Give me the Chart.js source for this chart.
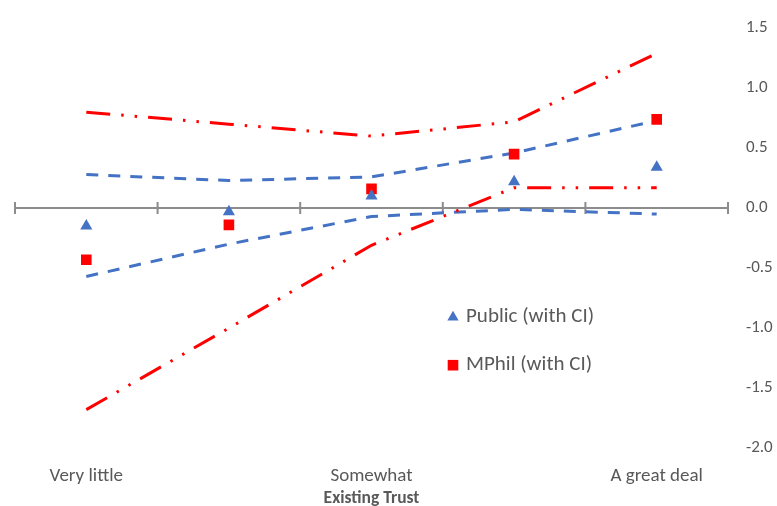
<!DOCTYPE html>
<html>
<head>
<meta charset="utf-8">
<script src="https://cdn.jsdelivr.net/npm/chart.js@4/dist/chart.umd.min.js"></script>
<style>
  html, body { margin: 0; padding: 0; background: #fff; }
  #wrap { width: 777px; height: 506px; }
</style>
</head>
<body>
<div id="wrap"><canvas id="trustChart"></canvas></div>
<script>
// categories (only every other one is labelled in the original)
const categories = ['Very little', '', 'Somewhat', '', 'A great deal'];
const yTicks = [1.5, 1.0, 0.5, 0.0, -0.5, -1.0, -1.5, -2.0];

// point estimates
const publicMean = [-0.15, -0.03, 0.10, 0.22, 0.34];
const mphilMean = [-0.43, -0.14, 0.16, 0.45, 0.74];

// confidence intervals
const publicUpper = [0.28, 0.23, 0.26, 0.46, 0.73];
const publicLower = [-0.57, -0.30, -0.07, -0.01, -0.05];
const mphilUpper = [0.80, 0.70, 0.60, 0.72, 1.29];
const mphilLower = [-1.68, -1.00, -0.31, 0.17, 0.17];

const BLUE = '#4472C4';
const RED = '#FF0000';
const GREY_TEXT = '#595959';
const FONT = 'Carlito, Calibri, Lato, sans-serif';

// gray zero axis with tick marks at category boundaries
const zeroAxis = {
    id: 'zeroAxis',
    beforeDatasetsDraw(chart) {
        const { ctx, scales: { x, y } } = chart;
        const y0 = y.getPixelForValue(0);
        ctx.save();
        ctx.strokeStyle = '#8C8C8C';
        ctx.lineWidth = 2;
        ctx.beginPath();
        ctx.moveTo(x.left, y0);
        ctx.lineTo(x.right, y0);
        for (let i = 0; i <= categories.length; i++) {
            const px = x.getPixelForValue(i - 0.5);
            ctx.moveTo(px, y0 - 6);
            ctx.lineTo(px, y0 + 6);
        }
        ctx.stroke();
        ctx.restore();
    }
};

// legend drawn inside the plot area, only for the two marker series
const innerLegend = {
    id: 'innerLegend',
    afterDatasetsDraw(chart) {
        const { ctx, chartArea } = chart;
        const startX = chartArea.left + 438;
        const startY = chartArea.top + 289;
        ctx.save();
        chart.data.datasets.slice(0, 2).forEach((ds, i) => {
            const cy = startY + i * 48;
            ctx.fillStyle = ds.pointBackgroundColor;
            Chart.helpers.drawPoint(ctx, {
                pointStyle: ds.pointStyle,
                rotation: 0,
                radius: ds.legendRadius,
                borderWidth: 0
            }, startX, cy);
            ctx.fillStyle = GREY_TEXT;
            ctx.font = '21px ' + FONT;
            ctx.textBaseline = 'middle';
            ctx.textAlign = 'left';
            ctx.fillText(ds.label, startX + 13, cy);
        });
        ctx.restore();
    }
};

const ctx = document.getElementById('trustChart').getContext('2d');
new Chart(ctx, {
    type: 'line',
    data: {
        labels: categories,
        datasets: [
            {
                label: 'Public (with CI)',
                data: publicMean,
                showLine: false,
                pointStyle: 'triangle',
                pointRadius: 7,
                legendRadius: 6.5,
                pointBackgroundColor: BLUE,
                pointBorderWidth: 0,
                order: 0
            },
            {
                label: 'MPhil (with CI)',
                data: mphilMean,
                showLine: false,
                pointStyle: 'rect',
                pointRadius: 7.5,
                legendRadius: 7.5,
                pointBackgroundColor: RED,
                pointBorderWidth: 0,
                order: 1
            },
            {
                label: 'Public upper',
                data: publicUpper,
                borderColor: BLUE,
                borderWidth: 3,
                borderDash: [12, 10],
                pointRadius: 0,
                fill: false,
                order: 4
            },
            {
                label: 'Public lower',
                data: publicLower,
                borderColor: BLUE,
                borderWidth: 3,
                borderDash: [12, 10],
                pointRadius: 0,
                fill: false,
                order: 5
            },
            {
                label: 'MPhil upper',
                data: mphilUpper,
                borderColor: RED,
                borderWidth: 3,
                borderDash: [24, 11, 2.5, 11, 2.5, 11],
                pointRadius: 0,
                fill: false,
                order: 2
            },
            {
                label: 'MPhil lower',
                data: mphilLower,
                borderColor: RED,
                borderWidth: 3,
                borderDash: [24, 11, 2.5, 11, 2.5, 11],
                pointRadius: 0,
                fill: false,
                order: 3
            }
        ]
    },
    options: {
        responsive: true,
        maintainAspectRatio: false,
        animation: false,
        layout: { padding: { left: 15, top: 24, right: 0, bottom: 0 } },
        plugins: {
            legend: { display: false },
            tooltip: { enabled: false }
        },
        scales: {
            x: {
                offset: true,
                grid: { display: false, drawTicks: false },
                border: { display: false },
                ticks: {
                    color: GREY_TEXT,
                    font: { family: FONT, size: 19 },
                    padding: 17,
                    autoSkip: false,
                    maxRotation: 0
                },
                title: {
                    display: true,
                    text: 'Existing Trust',
                    color: GREY_TEXT,
                    font: { family: FONT, size: 17.5, weight: 'bold' },
                    padding: { top: 0, bottom: -3 }
                },
                afterFit(scale) { scale.height = 58; }
            },
            y: {
                position: 'right',
                min: -2,
                max: 1.5,
                afterBuildTicks(scale) {
                    scale.ticks = yTicks.map(v => ({ value: v }));
                },
                grid: { display: false, drawTicks: false },
                border: { display: false },
                ticks: {
                    color: GREY_TEXT,
                    font: { family: FONT, size: 17 },
                    crossAlign: 'near',
                    padding: 18,
                    callback: v => v.toFixed(1)
                },
                afterFit(scale) { scale.width = 49; }
            }
        }
    },
    plugins: [zeroAxis, innerLegend]
});
</script>
</body>
</html>
